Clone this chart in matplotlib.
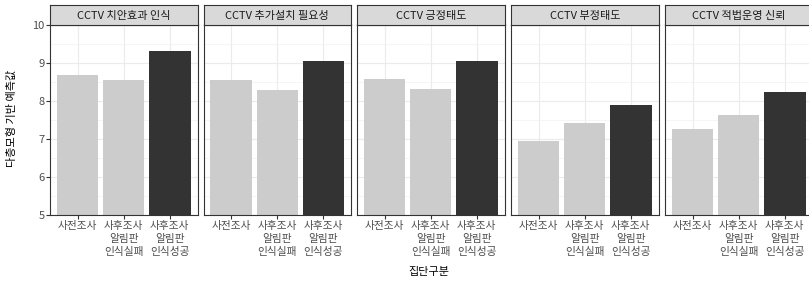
import matplotlib
matplotlib.use("Agg")
import matplotlib.pyplot as plt

plt.rcParams['font.family'] = ['Noto Sans CJK KR', 'DejaVu Sans']

panels = ["CCTV 치안효과 인식", "CCTV 추가설치 필요성", "CCTV 긍정태도", "CCTV 부정태도", "CCTV 적법운영 신뢰"]
groups = ["사전조사", "사후조사\n알림판\n인식실패", "사후조사\n알림판\n인식성공"]
values = [
    [8.68, 8.55, 9.30],
    [8.54, 8.29, 9.05],
    [8.58, 8.31, 9.04],
    [6.94, 7.41, 7.89],
    [7.26, 7.63, 8.24],
]
bar_colors = ["#CCCCCC", "#CCCCCC", "#333333"]
yticks = [5, 6, 7, 8, 9, 10]

W, H = 809, 283
fig = plt.figure(figsize=(W/100, H/100), dpi=100)

lefts = [50, 203.5, 357, 511, 665]
pw = 147.5
top = 24.5
bottom = 215
strip_top = 5

for i, (name, vals) in enumerate(zip(panels, values)):
    ax = fig.add_axes([lefts[i]/W, 1-bottom/H, pw/W, (bottom-top)/H])
    x = range(len(groups))
    ax.bar(x, vals, width=0.9, color=bar_colors, zorder=2)
    ax.set_ylim(5, 10.01)
    ax.set_xlim(-0.6, 2.6)
    ax.set_yticks(yticks)
    ax.set_yticks([5.5, 6.5, 7.5, 8.5, 9.5], minor=True)
    ax.set_xticks(list(x))
    ax.set_xticklabels(groups, fontsize=7.7, color="#4D4D4D", linespacing=1.4)
    ax.grid(which='major', color="#EBEBEB", lw=0.8, zorder=0)
    ax.grid(which='minor', axis='y', color="#F2F2F2", lw=0.5, zorder=0)
    ax.set_axisbelow(True)
    for s in ax.spines.values():
        s.set_color("#333333")
        s.set_linewidth(0.8)
    ax.tick_params(axis='x', length=3, color="#333333", pad=1)
    ax.tick_params(axis='y', which='major', length=3, color="#333333", labelsize=8, labelcolor="#4D4D4D", pad=1)
    ax.tick_params(axis='y', which='minor', length=0)
    if i > 0:
        ax.tick_params(axis='y', which='major', left=False, labelleft=False)
    sax = fig.add_axes([lefts[i]/W, 1-top/H, pw/W, (top-strip_top)/H])
    sax.set_xticks([]); sax.set_yticks([])
    sax.set_facecolor("#D9D9D9")
    for s in sax.spines.values():
        s.set_color("#333333")
        s.set_linewidth(0.8)
    sax.text(0.5, 0.45, name, ha='center', va='center', fontsize=8, color="#1A1A1A", transform=sax.transAxes)

fig.text(12/W, 1-118/H, "다층모형 기반 예측값", rotation=90, ha='center', va='center', fontsize=8, color="black")
fig.text(429/W, 1-272/H, "집단구분", ha='center', va='center', fontsize=8, color="black")

fig.savefig("out.png", dpi=100)
